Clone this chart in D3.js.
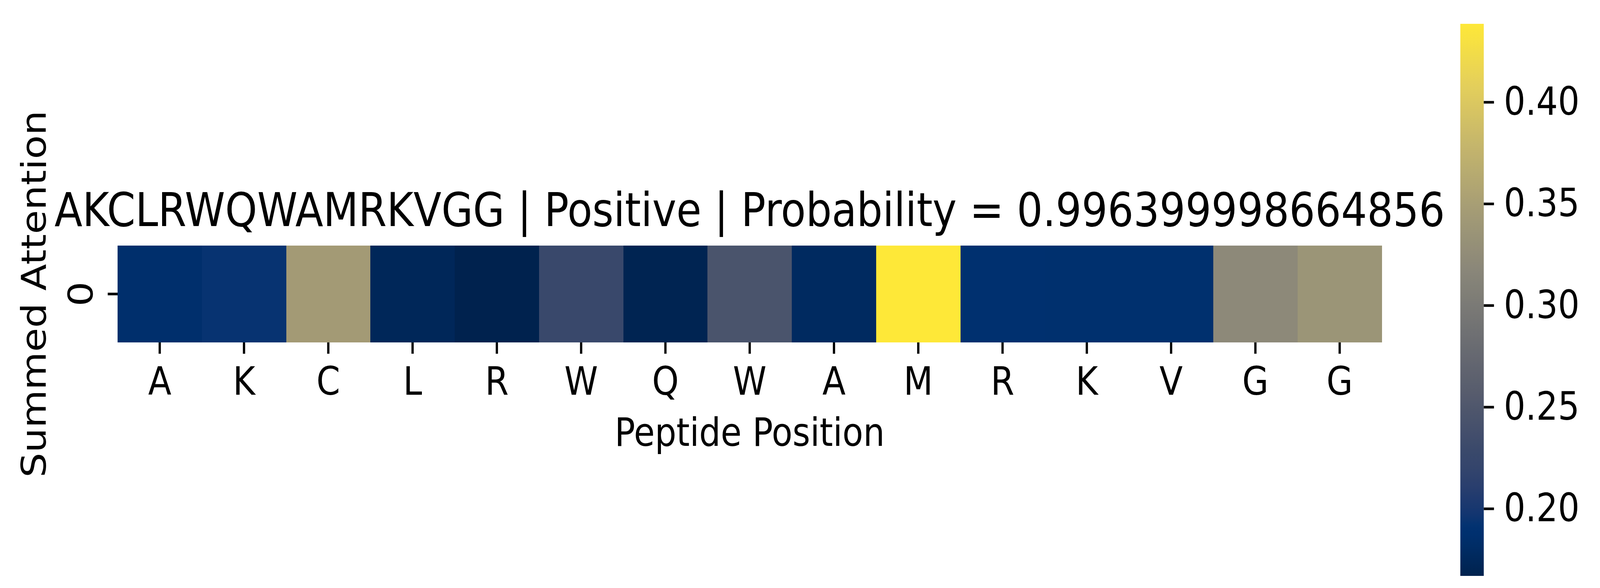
<!DOCTYPE html>
<html>
<head>
<meta charset="utf-8">
<script src="https://cdn.jsdelivr.net/npm/d3@7"></script>
<style>
  html, body { margin: 0; padding: 0; background: #ffffff; overflow: hidden; width: 100%; height: 100%; }
  svg { display: block; width: 100vw; height: 100vh; }
  text { font-family: "DejaVu Sans", sans-serif; fill: #000; }
</style>
</head>
<body>
<svg id="chart" viewBox="0 0 4708 1506" preserveAspectRatio="none"></svg>
<script>
// ---- data ----
const residues = ["A","K","C","L","R","W","Q","W","A","M","R","K","V","G","G"];
const attention = [0.1854, 0.1932, 0.3443, 0.1740, 0.1669, 0.2275, 0.1691, 0.2446, 0.1778, 0.4385, 0.1881, 0.1865, 0.1865, 0.3209, 0.3367];
const rowLabels = ["0"];
const colorbarTicks = [0.20, 0.25, 0.30, 0.35, 0.40];
const titleText = "AKCLRWQWAMRKVGG | Positive | Probability = 0.996399998664856";
const xLabel = "Peptide Position";
const yLabel = "Summed Attention";

// cividis colormap anchor colours (matplotlib "cividis")
const cividisStops = [0, 0.039, 0.075, 0.090, 0.110, 0.161, 0.200, 0.222, 0.333, 0.444, 0.556, 0.667, 0.778, 0.889, 1];
const cividisColors = ["#00224e", "#002a5f", "#00306f", "#013271", "#123570", "#293e6e", "#35466c", "#39486b",
                       "#575c6d", "#707173", "#8a8779", "#a69d75", "#c4b56c", "#e4cf5b", "#fee838"];
const cividis = d3.scaleLinear().domain(cividisStops).range(cividisColors).interpolate(d3.interpolateRgb).clamp(true);

// ---- layout ----
const W = 4708, H = 1506;
const plot = { left: 346, right: 4066, top: 629, bottom: 877 };
const cbar = { left: 4297, right: 4366, top: 61, bottom: 1475 };

const svg = d3.select("#chart");
svg.append("rect").attr("width", W).attr("height", H).attr("fill", "#fff");

const vmin = d3.min(attention), vmax = d3.max(attention);
const norm = d3.scaleLinear().domain([vmin, vmax]).range([0, 1]);
const color = d => cividis(norm(d));

const x = d3.scaleBand().domain(d3.range(residues.length)).range([plot.left, plot.right]).padding(0);
const y = d3.scaleBand().domain(rowLabels).range([plot.top, plot.bottom]).padding(0);

// cells
svg.append("g").selectAll("rect")
  .data(attention)
  .join("rect")
  .attr("x", (d, i) => x(i))
  .attr("y", y("0"))
  .attr("width", x.bandwidth() + 0.5)
  .attr("height", y.bandwidth())
  .attr("fill", d => color(d))
  .attr("shape-rendering", "crispEdges");

// x axis
const xAxis = d3.axisBottom(x).tickSize(29).tickPadding(34).tickFormat(i => residues[i]);
const gx = svg.append("g").attr("transform", `translate(0,${plot.bottom})`).call(xAxis);
gx.select(".domain").remove();
gx.selectAll(".tick line").attr("stroke", "#000").attr("stroke-width", 6.7);
gx.selectAll(".tick text").attr("font-size", 100).attr("font-family", "DejaVu Sans").attr("fill", "#000");

// y axis
const yAxis = d3.axisLeft(y).tickSize(29).tickPadding(29);
const gy = svg.append("g").attr("transform", `translate(${plot.left},0)`).call(yAxis);
gy.select(".domain").remove();
gy.selectAll(".tick line").attr("stroke", "#000").attr("stroke-width", 6.7);
gy.selectAll(".tick text").remove();
svg.append("g").selectAll("text")
  .data(rowLabels)
  .join("text")
  .attr("transform", d => `translate(272,${y(d) + y.bandwidth() / 2}) rotate(-90)`)
  .attr("text-anchor", "middle")
  .attr("font-size", 100)
  .text(d => d);

// title
svg.append("text")
  .attr("x", (plot.left + plot.right) / 2)
  .attr("y", 579)
  .attr("text-anchor", "middle")
  .attr("font-size", 120)
  .text(titleText);

// x label
svg.append("text")
  .attr("x", (plot.left + plot.right) / 2)
  .attr("y", 1142)
  .attr("text-anchor", "middle")
  .attr("font-size", 100)
  .text(xLabel);

// y label
svg.append("text")
  .attr("transform", `translate(135,${(plot.top + plot.bottom) / 2}) rotate(-90)`)
  .attr("text-anchor", "middle")
  .attr("font-size", 100)
  .text(yLabel);

// colorbar
const defs = svg.append("defs");
const grad = defs.append("linearGradient").attr("id", "cbgrad")
  .attr("x1", "0").attr("y1", "1").attr("x2", "0").attr("y2", "0");
d3.range(0, 1.0001, 1 / 128).forEach(t => {
  grad.append("stop").attr("offset", t).attr("stop-color", cividis(t));
});
svg.append("rect")
  .attr("x", cbar.left).attr("y", cbar.top)
  .attr("width", cbar.right - cbar.left).attr("height", cbar.bottom - cbar.top)
  .attr("fill", "url(#cbgrad)");

const cy = d3.scaleLinear().domain([vmin, vmax]).range([cbar.bottom, cbar.top]);
const cAxis = d3.axisRight(cy).tickValues(colorbarTicks).tickSize(30).tickPadding(29).tickFormat(d3.format(".2f"));
const gc = svg.append("g").attr("transform", `translate(${cbar.right},0)`).call(cAxis);
gc.select(".domain").remove();
gc.selectAll(".tick line").attr("stroke", "#000").attr("stroke-width", 6.7);
gc.selectAll(".tick text").attr("font-size", 100).attr("font-family", "DejaVu Sans").attr("fill", "#000");
</script>
</body>
</html>
